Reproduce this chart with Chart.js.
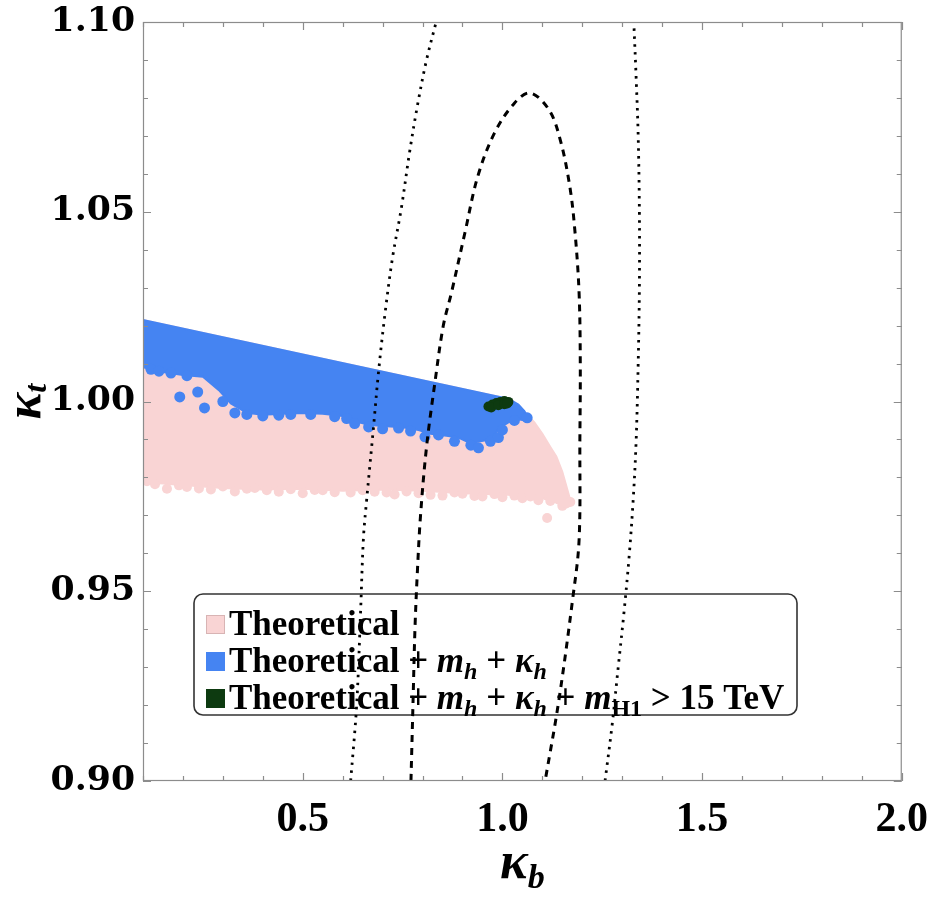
<!DOCTYPE html>
<html>
<head>
<meta charset="utf-8">
<script src="https://cdn.jsdelivr.net/npm/chart.js@4.4.0/dist/chart.umd.min.js"></script>
<style>
html,body{margin:0;padding:0;background:#ffffff;}
#wrap{width:942px;height:897px;position:relative;}
</style>
</head>
<body>
<div id="wrap"><canvas id="c" width="942" height="897"></canvas></div>
<script>
// ---------- axis ranges & tick labels ----------
const xRange = [0.1, 2.0];
const yRange = [0.90, 1.10];
const xTickLabels = ['0.5', '1.0', '1.5', '2.0'];
const yTickLabels = ['0.90', '0.95', '1.00', '1.05', '1.10'];
const xTitle = ['κ', 'b'];
const yTitle = ['κ', 't'];

// ---------- Theoretical region (pink), boundary ----------
const pinkKb = [0.10, 1.005, 1.025, 1.045, 1.062, 1.08, 1.10, 1.12, 1.135, 1.15, 1.162, 1.17, 1.165, 1.14, 1.10, 1.05, 1.00, 0.90, 0.80, 0.70, 0.60, 0.50, 0.40, 0.30, 0.20, 0.10, 0.10];
const pinkKt = [1.0215, 1.0009, 1.0003, 0.9985, 0.9965, 0.9945, 0.9915, 0.988, 0.9855, 0.9815, 0.977, 0.974, 0.9728, 0.9733, 0.9745, 0.9752, 0.9755, 0.9758, 0.9765, 0.9768, 0.9765, 0.977, 0.9768, 0.9772, 0.978, 0.9788, 1.0215];
// scattered pink points on the ragged lower edge
const pinkDotKb = [0.11, 0.13, 0.16, 0.19, 0.21, 0.24, 0.27, 0.30, 0.33, 0.36, 0.38, 0.41, 0.44, 0.47, 0.50, 0.53, 0.55, 0.58, 0.62, 0.65, 0.68, 0.71, 0.73, 0.76, 0.79, 0.82, 0.85, 0.88, 0.90, 0.93, 0.95, 0.98, 1.00, 1.03, 1.05, 1.07, 1.09, 1.12, 1.14, 1.15, 1.112, 1.17, 1.16];
const pinkDotKt = [0.9790, 0.9782, 0.9770, 0.9779, 0.9775, 0.9771, 0.9768, 0.9776, 0.9763, 0.9770, 0.9772, 0.9766, 0.9762, 0.9769, 0.9758, 0.9767, 0.9766, 0.9761, 0.9760, 0.9766, 0.9762, 0.9760, 0.9755, 0.9763, 0.9758, 0.9754, 0.9752, 0.9760, 0.9757, 0.9751, 0.9750, 0.9756, 0.9748, 0.9752, 0.9745, 0.9750, 0.9740, 0.9738, 0.9742, 0.9725, 0.9693, 0.9735, 0.9731];

// ---------- Theoretical + m_h + kappa_h (blue), boundary ----------
const blueKb = [0.10, 1.005, 1.02, 1.04, 1.055, 1.062, 1.055, 1.03, 1.00, 0.985, 0.97, 0.945, 0.92, 0.89, 0.86, 0.82, 0.79, 0.75, 0.71, 0.67, 0.64, 0.60, 0.55, 0.50, 0.45, 0.40, 0.36, 0.32, 0.29, 0.25, 0.20, 0.15, 0.10, 0.10];
const blueKt = [1.0215, 1.0009, 1.0004, 0.9992, 0.9975, 0.9962, 0.9950, 0.9955, 0.9935, 0.9920, 0.9900, 0.9895, 0.9890, 0.9905, 0.9910, 0.9915, 0.9925, 0.9932, 0.9935, 0.9938, 0.9945, 0.9962, 0.9968, 0.9970, 0.9968, 0.9965, 0.9970, 0.9995, 1.0030, 1.0065, 1.0070, 1.0078, 1.0090, 1.0215];
const blueDotKb = [0.192, 0.254, 0.237, 0.12, 0.14, 0.17, 0.21, 0.30, 0.33, 0.36, 0.40, 0.44, 0.47, 0.52, 0.58, 0.61, 0.63, 0.665, 0.70, 0.74, 0.77, 0.806, 0.84, 0.88, 0.921, 0.94, 0.97, 0.99, 1.00, 1.03, 1.062];
const blueDotKt = [1.0012, 0.9983, 1.0025, 1.0085, 1.0080, 1.0075, 1.0068, 1.0000, 0.9970, 0.9966, 0.9962, 0.9964, 0.9966, 0.9966, 0.9960, 0.9955, 0.9942, 0.9933, 0.9928, 0.9930, 0.9922, 0.9907, 0.9912, 0.9895, 0.9885, 0.9878, 0.9895, 0.9905, 0.9925, 0.9950, 0.9957];

// ---------- + m_H1 > 15 TeV (dark green) ----------
const greenKb = [0.965, 0.975, 0.985, 0.995, 1.005, 1.015, 0.972, 0.990, 1.005, 1.012];
const greenKt = [0.9987, 0.9992, 0.9996, 0.9999, 1.0001, 0.9999, 0.9984, 0.9990, 0.9993, 0.9995];

// ---------- dashed contour ----------
const dashKb = [0.771, 0.776, 0.781, 0.787, 0.795, 0.810, 0.831, 0.852, 0.872, 0.906, 0.938, 0.980, 1.030, 1.070, 1.117, 1.145, 1.169, 1.182, 1.192, 1.195, 1.194, 1.192, 1.176, 1.141, 1.107];
const dashKt = [0.900, 0.920, 0.940, 0.955, 0.970, 0.988, 1.005, 1.020, 1.0285, 1.0444, 1.0592, 1.0707, 1.0786, 1.0813, 1.0768, 1.0689, 1.0565, 1.0444, 1.0286, 1.010, 0.990, 0.9635, 0.948, 0.921, 0.900];

// ---------- dotted contour (two branches) ----------
const dotLeftKb = [0.620, 0.635, 0.645, 0.652, 0.660, 0.677, 0.690, 0.707, 0.725, 0.747, 0.768, 0.789, 0.810, 0.834];
const dotLeftKt = [0.900, 0.920, 0.945, 0.964, 0.974, 0.993, 1.008, 1.024, 1.038, 1.051, 1.066, 1.079, 1.090, 1.100];
const dotRightKb = [1.257, 1.275, 1.290, 1.305, 1.318, 1.328, 1.335, 1.340, 1.343, 1.343, 1.340, 1.335, 1.329];
const dotRightKt = [0.900, 0.915, 0.930, 0.945, 0.960, 0.975, 0.990, 1.010, 1.030, 1.050, 1.070, 1.085, 1.100];

// ---------- legend ----------
const legendColors = ['#f9d4d4', '#4584f2', '#0d3a10'];
const legendRows = [
  [['Theoretical', 'n']],
  [['Theoretical + ', 'n'], ['m', 'i'], ['h', 'si'], [' + ', 'n'], ['κ', 'i'], ['h', 'si']],
  [['Theoretical + ', 'n'], ['m', 'i'], ['h', 'si'], [' + ', 'n'], ['κ', 'i'], ['h', 'si'], [' + ', 'n'], ['m', 'i'], ['H1', 'sn'], [' > 15 TeV', 'n']]
];

const PINK = legendColors[0], BLUE = legendColors[1], GREEN = legendColors[2];
const zip = (a, b) => a.map((v, i) => ({x: v, y: b[i]}));
const isMajor = (v, step) => Math.abs(v / step - Math.round(v / step)) < 1e-6;

const SERIF = '"Liberation Serif", "DejaVu Serif", serif';

const framePlugin = {
  id: 'frame',
  afterDatasetsDraw(chart) {
    const {ctx, chartArea: a, scales: {x, y}} = chart;
    ctx.save();
    ctx.strokeStyle = '#8c8c8c';
    ctx.lineWidth = 1.2;
    ctx.strokeRect(a.left + 0.5, a.top + 0.5, a.right - a.left - 1, a.bottom - a.top - 1);
    ctx.beginPath();
    x.ticks.forEach(t => {
      const px = Math.round(x.getPixelForValue(t.value)) + 0.5;
      const L = isMajor(t.value, 0.5) ? 8 : 5;
      ctx.moveTo(px, a.bottom); ctx.lineTo(px, a.bottom - L);
      ctx.moveTo(px, a.top); ctx.lineTo(px, a.top + L);
    });
    y.ticks.forEach(t => {
      const py = Math.round(y.getPixelForValue(t.value)) + 0.5;
      const L = isMajor(t.value, 0.05) ? 8 : 5;
      ctx.moveTo(a.left, py); ctx.lineTo(a.left + L, py);
      ctx.moveTo(a.right, py); ctx.lineTo(a.right - L, py);
    });
    ctx.stroke();

    // y tick labels (wide bold serif)
    ctx.fillStyle = '#000';
    ctx.font = 'bold 33px "DejaVu Serif", serif';
    ctx.textBaseline = 'middle';
    ctx.textAlign = 'right';
    yTickLabels.forEach(lbl => {
      const py = y.getPixelForValue(parseFloat(lbl));
      ctx.save();
      ctx.translate(135, py);
      ctx.scale(1.05, 1);
      ctx.fillText(lbl, 0, 0);
      ctx.restore();
    });

    // axis titles
    const cx = (a.left + a.right) / 2;
    ctx.textAlign = 'left';
    ctx.textBaseline = 'alphabetic';
    ctx.font = 'bold italic 52px ' + SERIF;
    const w1 = ctx.measureText(xTitle[0]).width;
    ctx.font = 'bold italic 34px ' + SERIF;
    const w2 = ctx.measureText(xTitle[1]).width;
    let sx = cx - (w1 + w2) / 2;
    ctx.font = 'bold italic 52px ' + SERIF;
    ctx.fillText(xTitle[0], sx, 878);
    ctx.font = 'bold italic 34px ' + SERIF;
    ctx.fillText(xTitle[1], sx + w1, 888);

    const cy = (a.top + a.bottom) / 2;
    ctx.save();
    ctx.translate(40, cy);
    ctx.rotate(-Math.PI / 2);
    ctx.font = 'bold italic 50px ' + SERIF;
    const v1 = ctx.measureText(yTitle[0]).width;
    ctx.font = 'bold italic 32px ' + SERIF;
    const v2 = ctx.measureText(yTitle[1]).width;
    let sy = -(v1 + v2) / 2;
    ctx.font = 'bold italic 50px ' + SERIF;
    ctx.fillText(yTitle[0], sy, 0);
    ctx.font = 'bold italic 32px ' + SERIF;
    ctx.fillText(yTitle[1], sy + v1, 6);
    ctx.restore();
    ctx.restore();
  }
};

const legendPlugin = {
  id: 'richLegend',
  beforeDatasetsDraw(chart) {
    const ctx = chart.ctx;
    ctx.save();
    const bx = 194, by = 594, bw = 603, bh = 121, r = 9;
    ctx.beginPath();
    ctx.moveTo(bx + r, by);
    ctx.arcTo(bx + bw, by, bx + bw, by + bh, r);
    ctx.arcTo(bx + bw, by + bh, bx, by + bh, r);
    ctx.arcTo(bx, by + bh, bx, by, r);
    ctx.arcTo(bx, by, bx + bw, by, r);
    ctx.closePath();
    ctx.fillStyle = '#ffffff';
    ctx.fill();
    ctx.strokeStyle = '#333333';
    ctx.lineWidth = 1.6;
    ctx.stroke();

    const FS = 35, SS = 24;
    const fonts = {
      n: 'bold ' + FS + 'px ' + SERIF,
      i: 'bold italic ' + FS + 'px ' + SERIF,
      si: 'bold italic ' + SS + 'px ' + SERIF,
      sn: 'bold ' + SS + 'px ' + SERIF
    };
    ctx.textBaseline = 'alphabetic';
    ctx.textAlign = 'left';
    legendRows.forEach((row, k) => {
      const base = by + 41 + k * 37;
      ctx.fillStyle = legendColors[k];
      ctx.fillRect(206, base - 20, 19, 19);
      if (k === 0) { ctx.strokeStyle = '#d8b4b4'; ctx.lineWidth = 1; ctx.strokeRect(206.5, base - 19.5, 18, 18); }
      let xx = 229;
      ctx.fillStyle = '#000';
      row.forEach(([t, s]) => {
        ctx.font = fonts[s];
        const dy = (s === 'si' || s === 'sn') ? 7 : 0;
        ctx.fillText(t, xx, base + dy);
        xx += ctx.measureText(t).width;
      });
    });
    ctx.restore();
  }
};

const dotStyle = (color, radius, order) => ({
  type: 'scatter', backgroundColor: color, borderColor: color, borderWidth: 0,
  pointRadius: radius, pointHoverRadius: radius, showLine: false, order
});

new Chart(document.getElementById('c'), {
  type: 'scatter',
  data: {
    datasets: [
      Object.assign({label: 'Theoretical', data: zip(pinkKb, pinkKt), type: 'line', fill: 'shape',
        backgroundColor: PINK, borderColor: PINK, borderWidth: 2, pointRadius: 0, tension: 0, order: 10}),
      Object.assign({label: 'pinkDots', data: zip(pinkDotKb, pinkDotKt)}, dotStyle(PINK, 5, 9)),
      Object.assign({label: 'Theoretical + mh + kh', data: zip(blueKb, blueKt), type: 'line', fill: 'shape',
        backgroundColor: BLUE, borderColor: BLUE, borderWidth: 2, pointRadius: 0, tension: 0, order: 8}),
      Object.assign({label: 'blueDots', data: zip(blueDotKb, blueDotKt)}, dotStyle(BLUE, 5.5, 7)),
      Object.assign({label: 'Theoretical + mh + kh + mH1', data: zip(greenKb, greenKt)}, dotStyle(GREEN, 5, 6)),
      {label: 'dashed', type: 'line', data: zip(dashKb, dashKt), borderColor: '#000', borderWidth: 3,
        borderDash: [7, 6], pointRadius: 0, fill: false, tension: 0.35, order: 1},
      {label: 'dottedL', type: 'line', data: zip(dotLeftKb, dotLeftKt), borderColor: '#000', borderWidth: 2.8,
        borderDash: [2.5, 5.5], pointRadius: 0, fill: false, tension: 0.35, order: 2},
      {label: 'dottedR', type: 'line', data: zip(dotRightKb, dotRightKt), borderColor: '#000', borderWidth: 2.8,
        borderDash: [2.5, 5.5], pointRadius: 0, fill: false, tension: 0.35, order: 3}
    ]
  },
  options: {
    responsive: false,
    animation: false,
    devicePixelRatio: 1,
    layout: {padding: {left: 0, top: 22, right: 35, bottom: 0}},
    plugins: {legend: {display: false}, tooltip: {enabled: false}, title: {display: false}},
    scales: {
      x: {
        type: 'linear', min: xRange[0], max: xRange[1],
        grid: {display: false, drawTicks: false},
        border: {display: false},
        ticks: {
          stepSize: 0.1, autoSkip: false, maxRotation: 0, padding: 14,
          color: '#000', font: {family: SERIF, size: 42, weight: 'bold'},
          callback: (v) => isMajor(v, 0.5) ? (xTickLabels.find(l => Math.abs(parseFloat(l) - v) < 1e-6) || '') : ''
        },
        afterFit: (s) => { s.height = 116; }
      },
      y: {
        type: 'linear', min: yRange[0], max: yRange[1],
        grid: {display: false, drawTicks: false},
        border: {display: false},
        ticks: {stepSize: 0.01, autoSkip: false, display: false},
        afterFit: (s) => { s.width = 143; }
      }
    }
  },
  plugins: [legendPlugin, framePlugin]
});
</script>
</body>
</html>
